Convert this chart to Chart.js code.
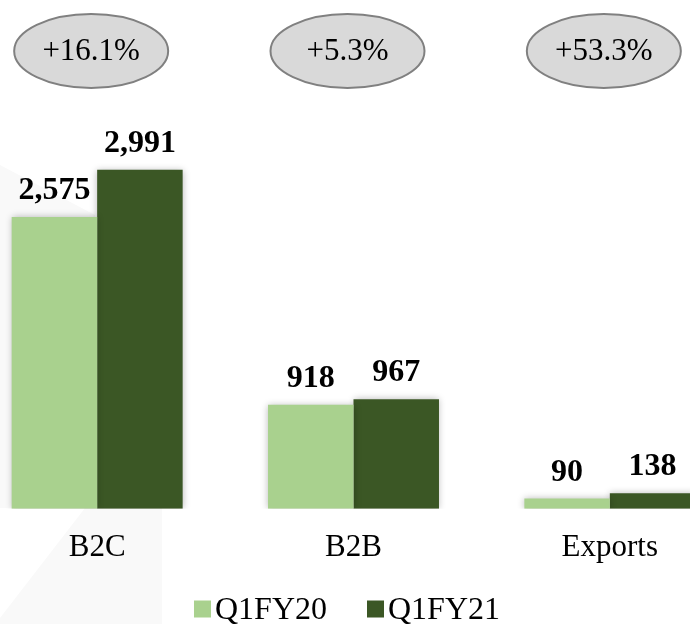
<!DOCTYPE html>
<html>
<head>
<meta charset="utf-8">
<script src="https://cdn.jsdelivr.net/npm/chart.js@4.4.0/dist/chart.umd.min.js"></script>
<style>
  html, body { margin: 0; padding: 0; background: #fff; overflow: hidden; }
  #wrap { position: absolute; left: -31px; top: 0; width: 769px; height: 624px; }
</style>
</head>
<body>
<div id="wrap"><canvas id="chart"></canvas></div>
<script>
const categories = ['B2C', 'B2B', 'Exports'];
const seriesNames = ['Q1FY20', 'Q1FY21'];
const q1fy20 = [2575, 918, 90];
const q1fy21 = [2991, 967, 138];
const growthLabels = ['+16.1%', '+5.3%', '+53.3%'];

const lightGreen = '#a9d18e';
const darkGreen = '#3b5725';
const serif = '"Liberation Serif", "Times New Roman", serif';
const OFFSET = 31; // canvas is shifted left of the page

// faint watermark in the background
const backdrop = {
  id: 'backdrop',
  beforeDraw(chart) {
    const ctx = chart.ctx;
    ctx.save();
    ctx.fillStyle = '#f9f9f9';
    ctx.beginPath();
    ctx.moveTo(OFFSET + 0, 618);
    ctx.lineTo(OFFSET + 85, 508);
    ctx.lineTo(OFFSET + 162, 508);
    ctx.lineTo(OFFSET + 162, 624);
    ctx.lineTo(OFFSET + 0, 624);
    ctx.closePath();
    ctx.fill();
    ctx.beginPath();
    ctx.moveTo(OFFSET + 0, 165);
    ctx.lineTo(OFFSET + 95, 215);
    ctx.lineTo(OFFSET + 95, 508);
    ctx.lineTo(OFFSET + 0, 508);
    ctx.closePath();
    ctx.fill();
    ctx.restore();
  }
};

// soft shadow under the bars
const barShadow = {
  id: 'barShadow',
  beforeDatasetsDraw(chart) {
    const ctx = chart.ctx;
    ctx.save();
    ctx.shadowColor = 'rgba(0,0,0,0.28)';
    ctx.shadowBlur = 7;
    ctx.shadowOffsetX = 0;
    ctx.shadowOffsetY = 0;
  },
  afterDatasetsDraw(chart) {
    chart.ctx.restore();
  }
};

// value labels, growth ovals and legend
const annotations = {
  id: 'annotations',
  afterDraw(chart) {
    const ctx = chart.ctx;
    const x = chart.scales.x;
    ctx.save();

    // values above bars
    ctx.fillStyle = '#000';
    ctx.font = 'bold 32px ' + serif;
    ctx.textAlign = 'center';
    ctx.textBaseline = 'alphabetic';
    chart.data.datasets.forEach((ds, di) => {
      chart.getDatasetMeta(di).data.forEach((bar, i) => {
        ctx.fillText(ds.data[i].toLocaleString('en-US'), bar.x, bar.y - 18);
      });
    });

    // growth ovals
    growthLabels.forEach((txt, i) => {
      const cx = x.getPixelForValue(i) - 6;
      const cy = 51;
      ctx.beginPath();
      ctx.ellipse(cx, cy, 77, 37, 0, 0, Math.PI * 2);
      ctx.fillStyle = '#d9d9d9';
      ctx.fill();
      ctx.lineWidth = 2;
      ctx.strokeStyle = '#808080';
      ctx.stroke();
      ctx.fillStyle = '#000';
      ctx.font = '31px ' + serif;
      ctx.textBaseline = 'middle';
      ctx.fillText(txt, cx, cy + 1);
    });

    // legend
    ctx.font = '32px ' + serif;
    ctx.textAlign = 'left';
    ctx.textBaseline = 'middle';
    const box = 17, gap = 4, spacing = 40;
    const widths = seriesNames.map(n => ctx.measureText(n).width);
    const total = widths.reduce((a, w) => a + box + gap + w, 0) + spacing;
    let lx = OFFSET + 347 - total / 2;
    const ly = 609;
    chart.data.datasets.forEach((ds, di) => {
      ctx.fillStyle = ds.backgroundColor;
      ctx.fillRect(lx, ly - box / 2, box, box);
      ctx.fillStyle = '#000';
      ctx.fillText(ds.label, lx + box + gap, ly + 2);
      lx += box + gap + widths[di] + spacing;
    });

    ctx.restore();
  }
};

new Chart(document.getElementById('chart'), {
  type: 'bar',
  data: {
    labels: categories,
    datasets: [
      { label: seriesNames[0], data: q1fy20, backgroundColor: lightGreen },
      { label: seriesNames[1], data: q1fy21, backgroundColor: darkGreen }
    ]
  },
  options: {
    responsive: true,
    maintainAspectRatio: false,
    animation: false,
    categoryPercentage: 0.667,
    barPercentage: 1.0,
    layout: { padding: { top: 0, left: 0, right: 0, bottom: 38 } },
    plugins: {
      legend: { display: false },
      tooltip: { enabled: false }
    },
    scales: {
      x: {
        grid: { display: false, drawTicks: false },
        border: { display: false },
        ticks: { color: '#000', font: { family: serif, size: 31 }, padding: 20 }
      },
      y: {
        display: false,
        min: 0,
        max: 4490
      }
    }
  },
  plugins: [backdrop, barShadow, annotations]
});
</script>
</body>
</html>
